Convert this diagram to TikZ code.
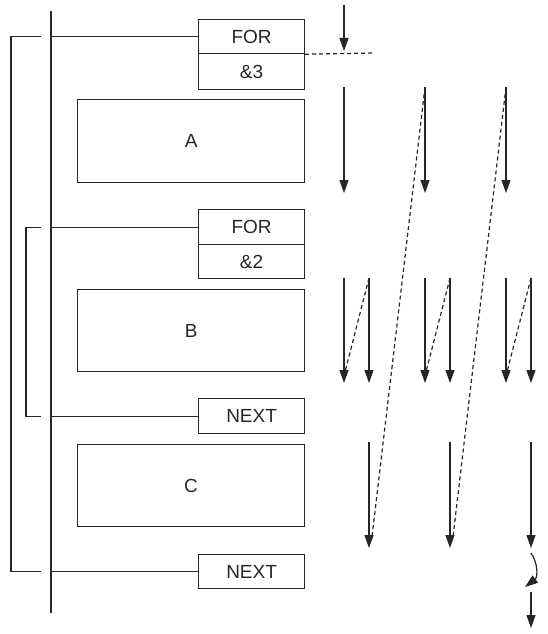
\documentclass[tikz,border=0pt]{standalone}
\usepackage{fontspec}
\setmainfont{Liberation Sans}
\usetikzlibrary{arrows.meta}
\begin{document}
\begin{tikzpicture}[x=1pt,y=-1pt, line width=1.2pt, color=black!85,
  box/.style={draw, rectangle, inner sep=0pt, anchor=north west,
    font=\fontsize{19}{22}\selectfont},
  arr/.style={-{Triangle[width=9pt,length=13pt]}},
  dsh/.style={dash pattern=on 4pt off 3pt}]
\useasboundingbox (0,0) rectangle (548,634);
% boxes
\node[box, minimum width=106, minimum height=34] (for1) at (198,19) {FOR};
\node[box, minimum width=106, minimum height=36] (n3) at (198,53) {\&3};
\node[box, minimum width=227, minimum height=83] (A) at (77,99) {A};
\node[box, minimum width=106, minimum height=35] (for2) at (198,209) {FOR};
\node[box, minimum width=106, minimum height=34] (n2) at (198,244) {\&2};
\node[box, minimum width=227, minimum height=82] (B) at (77,289) {B};
\node[box, minimum width=106, minimum height=35] (next1) at (198,398) {NEXT};
\node[box, minimum width=227, minimum height=82] (C) at (77,444) {C};
\node[box, minimum width=106, minimum height=34] (next2) at (198,554) {NEXT};
% main line and brackets
\coordinate (top) at (51,11);
\coordinate (bot) at (51,613);
\coordinate (L) at (41,0);
\coordinate (O) at (11,0);
\coordinate (I) at (26,0);
\draw (top) -- (bot);
\draw (for1.west -| top) -- (for1.west);
\draw (for2.west -| top) -- (for2.west);
\draw (next1.west -| top) -- (next1.west);
\draw (next2.west -| top) -- (next2.west);
\draw (for1.west -| L) -- (for1.west -| O) -- (next2.west -| O) -- (next2.west -| L);
\draw (for2.west -| L) -- (for2.west -| I) -- (next1.west -| I) -- (next1.west -| L);
% dashed continuation of the divider
\coordinate (dend) at (374,53);
\draw[dsh] (for1.south east) -- (dend);
% arrow coordinates
\coordinate (s0) at (344,5);  \coordinate (e0) at (344,51);
\foreach \i/\x in {1/344,3/425,5/506}{
  \coordinate (as\i) at (\x,87); \coordinate (ae\i) at (\x,193);}
\foreach \i/\x in {1/344,2/369,3/425,4/450,5/506,6/531}{
  \coordinate (bs\i) at (\x,278); \coordinate (be\i) at (\x,383);}
\foreach \i/\x in {2/369,4/450,6/531}{
  \coordinate (cs\i) at (\x,442); \coordinate (ce\i) at (\x,548);}
\coordinate (d1) at (372,537);
\coordinate (d2) at (453,537);
\coordinate (b1) at (345,372);
\coordinate (b3) at (426,372);
\coordinate (b5) at (507,372);
\coordinate (k1) at (531,553);
\coordinate (k2) at (525,587);
\coordinate (f1) at (531,592);
\coordinate (f2) at (531,628);
% arrows
\draw[arr] (s0) -- (e0);
\foreach \i in {1,3,5}{\draw[arr] (as\i) -- (ae\i);}
\foreach \i in {1,2,3,4,5,6}{\draw[arr] (bs\i) -- (be\i);}
\foreach \i in {2,4,6}{\draw[arr] (cs\i) -- (ce\i);}
% dashed links
\draw[dsh] (as3) -- (d1);
\draw[dsh] (as5) -- (d2);
\draw[dsh] (bs2) -- (b1);
\draw[dsh] (bs4) -- (b3);
\draw[dsh] (bs6) -- (b5);
% curved arrow and final arrow
\draw[arr] (k1) .. controls (538,563) and (538,577) .. (k2);
\draw[arr] (f1) -- (f2);
\end{tikzpicture}
\end{document}
